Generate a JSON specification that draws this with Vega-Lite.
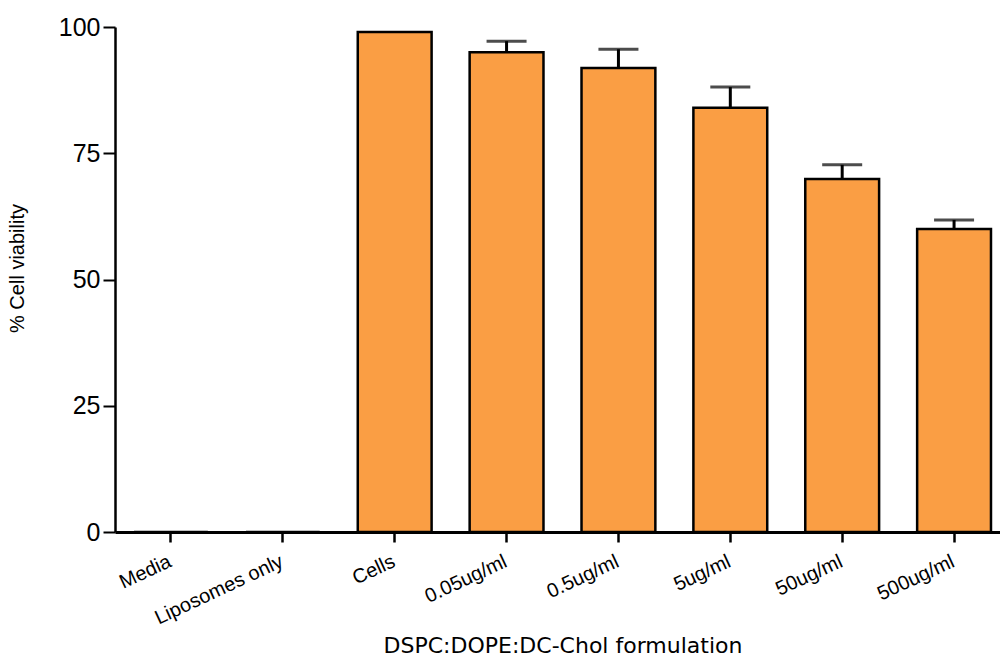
{
  "$schema": "https://vega.github.io/schema/vega-lite/v6.json",
  "autosize": "none",
  "width": 895,
  "height": 505,
  "padding": {"left": 115, "top": 27, "right": 0, "bottom": 126},
  "background": "white",
  "config": {
    "view": {"stroke": null},
    "font": "Liberation Sans",
    "axis": {"labelFont": "Liberation Sans", "titleFont": "Liberation Sans", "labelColor": "black", "titleColor": "black", "domainColor": "black", "tickColor": "black", "grid": false, "titleFontWeight": "normal"}
  },
  "data": {
    "values": [
      {"group": "Media", "value": 0, "upper": null},
      {"group": "Liposomes only", "value": 0, "upper": null},
      {"group": "Cells", "value": 99, "upper": null},
      {"group": "0.05ug/ml", "value": 95, "upper": 97.2},
      {"group": "0.5ug/ml", "value": 91.9, "upper": 95.6},
      {"group": "5ug/ml", "value": 84, "upper": 88.1},
      {"group": "50ug/ml", "value": 69.9, "upper": 72.7},
      {"group": "500ug/ml", "value": 60, "upper": 61.8}
    ]
  },
  "encoding": {
    "x": {
      "field": "group", "type": "nominal", "sort": null,
      "scale": {"paddingInner": 0.34, "paddingOuter": 0.17},
      "axis": {
        "title": "DSPC:DOPE:DC-Chol formulation",
        "titleFont": "DejaVu Sans", "titleFontSize": 22, "titlePadding": 8,
        "labelAngle": -25, "labelAlign": "right", "labelBaseline": "top",
        "labelFontSize": 20, "labelPadding": 9, "labelOffset": -5,
        "tickSize": 10, "tickWidth": 2.5, "domainWidth": 3
      }
    }
  },
  "layer": [
    {
      "mark": {"type": "bar", "fill": "#FA9E44", "stroke": "black", "strokeWidth": 2.5},
      "encoding": {
        "y": {
          "field": "value", "type": "quantitative",
          "scale": {"domain": [0, 100], "nice": false},
          "axis": {
            "title": "% Cell viability", "titleFontSize": 20,
            "titleAngle": -90, "titleX": -98, "titleY": 241, "titleAlign": "center", "titleBaseline": "middle",
            "values": [0, 25, 50, 75, 100],
            "labelFontSize": 25, "labelPadding": 3,
            "tickSize": 12, "tickWidth": 2, "domainWidth": 2.5
          }
        }
      }
    },
    {
      "transform": [{"filter": "datum.upper != null"}],
      "mark": {"type": "rule", "color": "black", "strokeWidth": 3},
      "encoding": {
        "y": {"field": "value", "type": "quantitative"},
        "y2": {"field": "upper"}
      }
    },
    {
      "transform": [{"filter": "datum.upper != null"}],
      "mark": {"type": "tick", "color": "black", "thickness": 3, "size": 40, "orient": "horizontal"},
      "encoding": {
        "y": {"field": "upper", "type": "quantitative"}
      }
    }
  ]
}
